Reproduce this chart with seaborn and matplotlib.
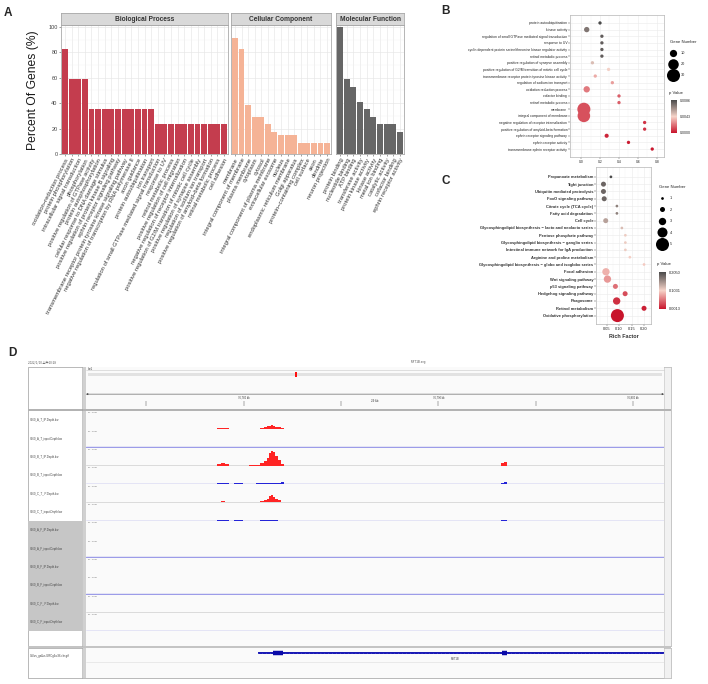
import numpy as np
import pandas as pd
import matplotlib
matplotlib.use("Agg")
import matplotlib.pyplot as plt
import seaborn as sns
import matplotlib.transforms as mtransforms
from matplotlib.colors import LinearSegmentedColormap, Normalize
from matplotlib.lines import Line2D
from matplotlib.patches import Rectangle
from matplotlib.ticker import MultipleLocator
import matplotlib.cm as cm

# ------------------------------------------------------------------ data
bp_terms = ["oxidation−reduction process", "protein phosphorylation", "intracellular signal transduction",
            "phosphorylation", "positive regulation of GTPase activity", "protein autophosphorylation",
            "cellular response to DNA damage stimulus", "positive regulation of protein kinase B signaling",
            "ephrin receptor signaling pathway", "transmembrane receptor protein tyrosine kinase signaling pathway",
            "negative regulation of transcription by RNA polymerase II", "axon guidance",
            "protein autoubiquitination", "ion transport", "regulation of small GTPase mediated signal transduction",
            "response to UV", "retinol metabolic process", "positive regulation of cell migration",
            "negative regulation of receptor internalization",
            "positive regulation of G2/M transition of mitotic cell cycle", "positive regulation of synapse assembly",
            "regulation of sodium ion transport", "positive regulation of amyloid−beta formation",
            "retinal metabolic process", "cell adhesion"]
bp_pct = [82.4, 58.8, 58.8, 58.8, 35.3, 35.3, 35.3, 35.3, 35.3, 35.3, 35.3, 35.3, 35.3, 35.3,
          23.5, 23.5, 23.5, 23.5, 23.5, 23.5, 23.5, 23.5, 23.5, 23.5, 23.5]

cc_terms = ["membrane", "integral component of membrane", "plasma membrane", "cytoplasm", "cytosol",
            "integral component of plasma membrane", "extracellular exosome", "nucleus",
            "endoplasmic reticulum membrane", "Golgi apparatus", "protein−containing complex",
            "cell surface", "axon", "dendrite", "neuron projection"]
cc_pct = [91.2, 82.4, 38.2, 29.4, 29.4, 23.5, 17.6, 14.7, 14.7, 14.7, 8.8, 8.8, 8.8, 8.8, 8.8]

mf_terms = ["protein binding", "nucleotide binding", "ATP binding", "transferase activity",
            "protein kinase activity", "kinase activity", "metal ion binding", "catalytic activity",
            "cofactor binding", "ephrin receptor activity"]
mf_pct = [100.0, 58.8, 52.9, 41.2, 35.3, 29.4, 23.5, 23.5, 23.5, 17.6]

b_terms = ["protein autoubiquitination", "kinase activity",
           "regulation of small GTPase mediated signal transduction", "response to UV",
           "cyclin-dependent protein serine/threonine kinase regulator activity", "retinol metabolic process",
           "positive regulation of synapse assembly",
           "positive regulation of G2/M transition of mitotic cell cycle",
           "transmembrane receptor protein tyrosine kinase activity", "regulation of sodium ion transport",
           "oxidation reduction process", "cofactor binding", "retinal metabolic process", "membrane",
           "integral component of membrane", "negative regulation of receptor internalization",
           "positive regulation of amyloid-beta formation", "ephrin receptor signaling pathway",
           "ephrin receptor activity", "transmembrane ephrin receptor activity"]
b_rich = [0.20, 0.06, 0.22, 0.22, 0.22, 0.22, 0.12, 0.29, 0.15, 0.33,
          0.06, 0.40, 0.40, 0.03, 0.03, 0.67, 0.67, 0.27, 0.50, 0.75]
b_genes = [3, 6, 3, 3, 3, 3, 3, 3, 3, 3, 8, 3, 3, 31, 28, 3, 3, 4, 3, 3]
b_p = [0.0086, 0.0072, 0.0080, 0.0080, 0.0080, 0.0080, 0.0050, 0.0044, 0.0034, 0.0031,
       0.0023, 0.0017, 0.0017, 0.0014, 0.0014, 0.0007, 0.0007, 0.0004, 0.0002, 0.0001]
b_legend_genes = [10, 20, 30]
b_p_range = (0.0000, 0.0086)

c_terms = ["Propanoate metabolism", "Tight junction", "Ubiquitin mediated proteolysis",
           "FoxO signaling pathway", "Citrate cycle (TCA cycle)", "Fatty acid degradation", "Cell cycle",
           "Glycosphingolipid biosynthesis − lacto and neolacto series", "Pentose phosphate pathway",
           "Glycosphingolipid biosynthesis − ganglio series", "Intestinal immune network for IgA production",
           "Arginine and proline metabolism", "Glycosphingolipid biosynthesis − globo and isoglobo series",
           "Focal adhesion", "Wnt signaling pathway", "p53 signaling pathway", "Hedgehog signaling pathway",
           "Phagosome", "Retinol metabolism", "Oxidative phosphorylation"]
c_rich = [0.067, 0.037, 0.037, 0.040, 0.091, 0.091, 0.046, 0.111, 0.125, 0.125,
          0.125, 0.143, 0.200, 0.047, 0.053, 0.085, 0.124, 0.090, 0.200, 0.093]
c_genes = [1, 2, 2, 2, 1, 1, 2, 1, 1, 1, 1, 1, 1, 3, 3, 2, 2, 3, 2, 5]
c_p = [0.2050, 0.185, 0.185, 0.185, 0.165, 0.165, 0.140, 0.120, 0.108, 0.108,
       0.108, 0.100, 0.098, 0.085, 0.072, 0.050, 0.032, 0.016, 0.008, 0.0013]
c_legend_genes = [1, 2, 3, 4, 5]
c_p_range = (0.0013, 0.2050)

# IGV browser (panel D)
region_kb = (76771.9, 76801.6)
ruler_ticks_kb = [76775, 76780, 76785, 76790, 76795, 76800]
ruler_labels_kb = [76780, 76790, 76800]
chr_len_mb = 212.0
locus_mb = 76.787
track_names = ["Y160_A_T_IP.Depth.bw", "Y160_A_T_input.Depth.bw", "Y160_B_T_IP.Depth.bw",
               "Y160_B_T_input.Depth.bw", "Y160_C_T_IP.Depth.bw", "Y160_C_T_input.Depth.bw",
               "Y160_A_F_IP.Depth.bw", "Y160_A_F_input.Depth.bw", "Y160_B_F_IP.Depth.bw",
               "Y160_B_F_input.Depth.bw", "Y160_C_F_IP.Depth.bw", "Y160_C_F_input.Depth.bw"]
cov_pos_kb = [76778.55, 76778.75, 76778.95, 76779.15, 76779.35, 76779.65, 76779.85, 76780.10,
              76780.50, 76780.75, 76780.95, 76781.10, 76781.25, 76781.35, 76781.45, 76781.55,
              76781.70, 76781.85, 76782.00, 76782.15, 76793.15, 76793.30, 76793.45, 76793.60]
cov_ip_a = [0, 6, 8, 5, 0, 0, 0, 0, 1, 3, 6, 11, 16, 20, 25, 21, 15, 10, 4, 0, 0, 2, 3, 0]
cov_in_a = [0, 3, 4, 2, 0, 3, 4, 0, 0, 1, 1, 2, 2, 3, 4, 3, 2, 1, 1, 0, 0, 3, 4, 0]
cov_ip_b = [0, 10, 18, 12, 0, 0, 0, 0, 2, 6, 14, 28, 48, 78, 92, 84, 60, 36, 12, 0, 0, 16, 20, 0]
cov_in_b = [0, 6, 8, 6, 0, 6, 7, 0, 3, 6, 7, 8, 8, 9, 8, 9, 8, 9, 10, 0, 0, 8, 10, 0]
cov_ip_c = [0, 5, 7, 4, 0, 0, 0, 0, 1, 4, 8, 12, 22, 40, 47, 36, 20, 12, 4, 0, 0, 3, 4, 0]
cov_in_c = [0, 3, 4, 2, 0, 2, 3, 0, 0, 1, 2, 2, 3, 3, 4, 3, 2, 1, 0, 0, 0, 3, 4, 0]
track_cov = [cov_ip_a, cov_in_a, cov_ip_b, cov_in_b, cov_ip_c, cov_in_c,
             None, None, None, None, None, None]
gene_name = "MYT1B"
gene_span_kb = (76780.74, 76802.5)
exons_kb = [(76781.50, 76782.03), (76793.30, 76793.55)]

# ------------------------------------------------------------------ setup
sns.set_theme(style="white")
plt.rcParams['font.family'] = ['Liberation Sans', 'DejaVu Sans']
plt.rcParams['axes.unicode_minus'] = True

W, H = 708, 684
fig = plt.figure(figsize=(W / 100, H / 100), dpi=100)
fig.patch.set_facecolor("white")
PX = mtransforms.Affine2D().scale(1 / W, -1 / H).translate(0, 1) + fig.transFigure


def ax_px(x0, y0, x1, y1, z=None, **kw):
    a = fig.add_axes([x0 / W, 1 - y1 / H, (x1 - x0) / W, (y1 - y0) / H], **kw)
    if z is not None:
        a.set_zorder(z)
    return a


def frect(x0, y0, x1, y1, **kw):
    fig.add_artist(Rectangle((x0, y0), x1 - x0, y1 - y0, transform=PX, **kw))


def fline(x0, y0, x1, y1, **kw):
    fig.add_artist(Line2D([x0, x1], [y0, y1], transform=PX, **kw))


def ftext(x, y, s, **kw):
    t = fig.text(x / W, 1 - y / H, s, **kw)
    t.set_zorder(20)
    return t


# panel letters
for letter, (x, y) in zip("ABCD", [(4, 13.5), (441, 11), (441, 181), (8, 353)]):
    ftext(x, y, letter, fontsize=8.5, fontweight="bold", va="center", ha="left")

# ------------------------------------------------------------------ Panel A
border = "#A9A9A9"
facets = [("Biological Process", bp_terms, bp_pct, "#C43D4E", 61, 228),
          ("Cellular Component", cc_terms, cc_pct, "#F5B396", 231, 331),
          ("Molecular Function", mf_terms, mf_pct, "#666666", 336, 404)]
for k, (title, terms, vals, col, x0, x1) in enumerate(facets):
    ax = ax_px(x0, 25, x1, 154)
    sns.barplot(x=terms, y=vals, color=col, saturation=1, width=0.9, ax=ax, linewidth=0)
    n = len(terms)
    ax.set_xlim(-0.6, n - 0.4)
    ax.set_ylim(0, 101.5)
    ax.set_yticks([0, 20, 40, 60, 80, 100])
    ax.yaxis.set_minor_locator(MultipleLocator(10))
    ax.set_axisbelow(True)
    ax.grid(True, which="major", color="#E6E6E6", lw=0.45)
    ax.grid(True, which="minor", axis="y", color="#F3F3F3", lw=0.3)
    ax.set_xlabel("")
    ax.set_ylabel("")
    ax.set_xticks(range(n))
    ax.set_xticklabels(terms, rotation=63, ha="right", va="top", rotation_mode="anchor",
                       fontsize=4.2, color="#333333")
    ax.tick_params(axis="x", which="both", bottom=True, length=1.5, width=0.4, color="#555555", pad=1)
    ax.tick_params(axis="y", which="major", left=True, length=1.5, width=0.4, color="#555555",
                   labelsize=4, labelcolor="#444444", pad=1)
    ax.tick_params(axis="y", which="minor", left=False)
    if k > 0:
        ax.set_yticklabels([])
        ax.tick_params(axis="y", which="major", left=False)
    for sp in ax.spines.values():
        sp.set_color(border)
        sp.set_linewidth(0.6)
    sax = ax_px(x0, 13, x1, 25)
    sax.set_facecolor("#D9D9D9")
    sax.set_xticks([])
    sax.set_yticks([])
    for sp in sax.spines.values():
        sp.set_color(border)
        sp.set_linewidth(0.6)
    sax.text(0.5, 0.48, title, transform=sax.transAxes, ha="center", va="center",
             fontsize=4.8, fontweight="bold", color="#333333")

ftext(33, 90, "Percent Of Genes (%)", rotation=90, fontsize=8.7, ha="center", va="center",
      color="#1a1a1a")

# ------------------------------------------------------------------ colormap for B/C
pcmap = LinearSegmentedColormap.from_list("pv", ["#C8142B", "#F6D3C8", "#4A4A4A"])


def style_bubble(ax, fs):
    ax.set_xlabel("")
    ax.set_ylabel("")
    ax.set_axisbelow(True)
    ax.grid(True, which="major", color="#EBEBEB", lw=0.4)
    ax.grid(True, which="minor", axis="x", color="#F4F4F4", lw=0.3)
    ax.tick_params(axis="both", which="major", length=1.2, width=0.35, color="#555555",
                   labelsize=fs, pad=0.8, labelcolor="#222222")
    ax.tick_params(axis="x", which="minor", bottom=False)
    ax.tick_params(left=True, bottom=True)
    for sp in ax.spines.values():
        sp.set_color("#B5B5B5")
        sp.set_linewidth(0.5)


# ------------------------------------------------------------------ Panel B
dfB = pd.DataFrame(dict(term=b_terms, rich=b_rich, genes=b_genes, p=b_p))
normB = Normalize(*b_p_range)
sizeB = (5.7, 88)
sizeB_norm = (3, 30)
axB = ax_px(570, 15, 664, 157)
sns.scatterplot(data=dfB, x="rich", y="term", hue="p", hue_norm=normB, palette=pcmap,
                size="genes", sizes=sizeB, size_norm=sizeB_norm, linewidth=0, legend=False, ax=axB)
axB.set_ylim(len(b_terms) - 1 + 1.2, -1.2)
axB.set_xlim(-0.116, 0.874)
axB.set_xticks([0, 0.2, 0.4, 0.6, 0.8])
axB.set_xticklabels(["0.0", "0.2", "0.4", "0.6", "0.8"])
axB.xaxis.set_minor_locator(MultipleLocator(0.1))
style_bubble(axB, 2.4)


def size_of(n, rng, nrm):
    return rng[0] + (n - nrm[0]) / (nrm[1] - nrm[0]) * (rng[1] - rng[0])


hB = [Line2D([], [], ls="", marker="o", color="black", markeredgewidth=0,
             markersize=np.sqrt(size_of(g, sizeB, sizeB_norm))) for g in b_legend_genes]
fig.legend(hB, [str(g) for g in b_legend_genes], title="Gene Number", loc="upper left",
           bbox_to_anchor=(668 / W, 1 - 38 / H), frameon=False, fontsize=2.8, title_fontsize=3.1,
           labelspacing=1.8, handletextpad=1.2, borderpad=0, alignment="left", handlelength=1.5)

caxB = ax_px(671, 100, 677, 133)
cbB = fig.colorbar(cm.ScalarMappable(norm=normB, cmap=pcmap), cax=caxB)
midB = (b_p_range[0] + b_p_range[1]) / 2
cbB.set_ticks([b_p_range[0], midB, b_p_range[1]])
cbB.set_ticklabels([f"{v:.4f}" for v in (b_p_range[0], midB, b_p_range[1])])
cbB.outline.set_visible(False)
caxB.tick_params(labelsize=2.6, length=1, width=0.3, color="white", pad=1)
ftext(669, 93, "p Value", fontsize=3.1, va="center")

# ------------------------------------------------------------------ Panel C
dfC = pd.DataFrame(dict(term=c_terms, rich=c_rich, genes=c_genes, p=c_p))
normC = Normalize(*c_p_range)
sizeC = {1: 3.8, 2: 13, 3: 28, 4: 52, 5: 88}
axC = ax_px(596, 167, 651, 324)
sns.scatterplot(data=dfC, x="rich", y="term", hue="p", hue_norm=normC, palette=pcmap,
                size="genes", sizes=sizeC, linewidth=0, legend=False, ax=axC)
axC.set_ylim(len(c_terms) - 1 + 1.15, -1.35)
axC.set_xlim(0.007, 0.228)
axC.set_xticks([0.05, 0.10, 0.15, 0.20])
axC.set_xticklabels(["0.05", "0.10", "0.15", "0.20"])
axC.xaxis.set_minor_locator(MultipleLocator(0.025))
style_bubble(axC, 2.9)
for t in axC.get_yticklabels():
    t.set_fontweight("bold")
    t.set_color("#333333")
ftext(623.5, 337, "Rich Factor", fontsize=3.9, fontweight="bold", ha="center", va="center", color="#333333")

hC = [Line2D([], [], ls="", marker="o", color="black", markeredgewidth=0,
             markersize=np.sqrt(sizeC[g])) for g in c_legend_genes]
fig.legend(hC, [str(g) for g in c_legend_genes], title="Gene Number", loc="upper left",
           bbox_to_anchor=(657 / W, 1 - 183 / H), frameon=False, fontsize=2.8, title_fontsize=3.1,
           labelspacing=1.9, handletextpad=1.2, borderpad=0, alignment="left", handlelength=1.6)

caxC = ax_px(659, 272, 666, 309)
cbC = fig.colorbar(cm.ScalarMappable(norm=normC, cmap=pcmap), cax=caxC)
midC = (c_p_range[0] + c_p_range[1]) / 2
cbC.set_ticks([c_p_range[0], midC, c_p_range[1]])
cbC.set_ticklabels([f"{v:.4f}" for v in (c_p_range[0], midC, c_p_range[1])])
cbC.outline.set_visible(False)
caxC.tick_params(labelsize=2.8, length=1, width=0.3, color="white", pad=1)
ftext(657, 264, "p Value", fontsize=3.1, va="center")

# ------------------------------------------------------------------ Panel D (IGV view)
ftext(28, 362, "2022/1/10 上午10:28", fontsize=2.2, va="center", color="#555555",
      family=["Noto Sans CJK SC", "DejaVu Sans"])
ftext(418, 362, f"{gene_name}.svg", fontsize=2.2, va="center", ha="center", color="#555555")

TOP, TR0, TRH, NTR = 367, 411.0, 18.35, 12
TR1 = TR0 + TRH * NTR
GT0, GT1 = 648, 678
XL0, XL1, XD0, XD1, XS1 = 28, 82, 86, 664, 671

# frames (background chrome, drawn below the track axes)
frect(XL0, TOP, XS1, 646, fc="white", ec="#9C9C9C", lw=0.5, zorder=1)
frect(XD0, TOP, XD1, 646, fc="#FAFAFA", ec="none", zorder=1.1)
frect(XL1 + 0.5, TOP, XD0, 646, fc="#D0D0D0", ec="none", zorder=1.2)
frect(XD1, TOP, XS1, 646, fc="#F1F1F1", ec="#BDBDBD", lw=0.4, zorder=1.2)
frect(XL0, 408.5, XS1, TR0, fc="#B3B3B3", ec="none", zorder=1.2)
frect(XL0 + 0.3, TR0 + TRH * 6, XL1, TR1, fc="#C6C6C6", ec="none", zorder=1.2)
frect(XL0, GT0, XS1, GT1, fc="white", ec="#9C9C9C", lw=0.5, zorder=1)
frect(XD0, GT0, XD1, GT1, fc="#FAFAFA", ec="none", zorder=1.1)
frect(XL1 + 0.5, GT0, XD0, GT1, fc="#D0D0D0", ec="none", zorder=1.2)
frect(XD1, GT0, XS1, GT1, fc="#F1F1F1", ec="#BDBDBD", lw=0.4, zorder=1.2)
frect(XL0, 645.5, XS1, GT0, fc="#C4C4C4", ec="none", zorder=1.2)
fline(XL1, TOP, XL1, 646, color="#9C9C9C", lw=0.4, zorder=1.3)
fline(XL1, GT0, XL1, GT1, color="#9C9C9C", lw=0.4, zorder=1.3)
fline(XD0, 370.3, XD1, 370.3, color="#C8C8C8", lw=0.4, zorder=1.3)
ftext(88, 369.0, "chr1", fontsize=1.9, va="center", color="#333333")

# ideogram
axI = ax_px(88, 371.5, 662, 377, z=5)
axI.set_xlim(0, chr_len_mb)
axI.set_ylim(0, 1)
axI.axhspan(0.2, 0.8, color="#E2E2E2", lw=0)
axI.axvspan(locus_mb - 0.35, locus_mb + 0.35, color="#FF1010", lw=0)
axI.axis("off")

# ruler
axR = ax_px(XD0, 379, XD1, 407, z=5)
axR.set_xlim(*region_kb)
axR.set_ylim(1, 0)
axR.axis("off")
span = region_kb[1] - region_kb[0]
axR.text(0.5, 0.22, f"{int(span)} kb", transform=axR.transAxes, ha="center", va="center",
         fontsize=2.2, color="#333333")
axR.annotate("", xy=(region_kb[1], 0.46), xytext=(region_kb[0], 0.46),
             xycoords=axR.get_xaxis_transform(), textcoords=axR.get_xaxis_transform(),
             arrowprops=dict(arrowstyle="<|-|>", lw=0.4, color="#444444", mutation_scale=2.5,
                             shrinkA=0, shrinkB=0))
axR.vlines(ruler_ticks_kb, 0.78, 0.95, color="#555555", lw=0.35)
for v in ruler_labels_kb:
    axR.text(v, 0.66, f"{v:,} kb", ha="center", va="center", fontsize=1.9, color="#333333")

# tracks
for i, (name, cov) in enumerate(zip(track_names, track_cov)):
    y0 = TR0 + i * TRH
    is_input = "input" in name
    axT = ax_px(XD0, y0, XD1, y0 + TRH, z=5)
    axT.set_xlim(*region_kb)
    axT.set_ylim(0, 112)
    axT.axis("off")
    axT.axhline(3.5, color="#9C9CE8" if is_input else "#D6D6D6", lw=1.05 if is_input else 0.6,
                zorder=1, snap=True)
    if cov is not None:
        axT.fill_between(cov_pos_kb, 2.0, np.array(cov) + 2.0, step="mid",
                         color="#2424D8" if is_input else "#FF2424", lw=0, zorder=2)
    axT.text(0.003, 0.9, "[0 - 100]", transform=axT.transAxes, fontsize=1.7, va="center",
             color="#666666")
    ftext(XL0 + 2, y0 + TRH / 2, name, fontsize=2.0, va="center", color="#444444")

# gene track
ftext(XL0 + 2, 656, "Gallus_gallus.GRCg6a.96.chr.gtf", fontsize=2.0, va="center", color="#444444")
axG = ax_px(XD0, GT0, XD1, GT1, z=5)
axG.set_xlim(*region_kb)
axG.set_ylim(0, 1)
axG.axis("off")
axG.hlines(0.83, gene_span_kb[0], gene_span_kb[1], color="#1414B4", lw=1.4)
axG.hlines(0.83, gene_span_kb[0], gene_span_kb[1], color="#7C7CE0", lw=0.5,
           linestyles=(0, (0.6, 5)))
for e0, e1 in exons_kb:
    axG.hlines(0.83, e0, e1, color="#0A0AA8", lw=3.2)
axG.axhline(0.53, color="#DCDCDC", lw=0.4)
axG.text(np.mean(gene_span_kb) - 0.75, 0.64, gene_name, ha="center", va="center",
         fontsize=1.9, color="#444444")

fig.savefig("out.png", dpi=100, facecolor="white")
